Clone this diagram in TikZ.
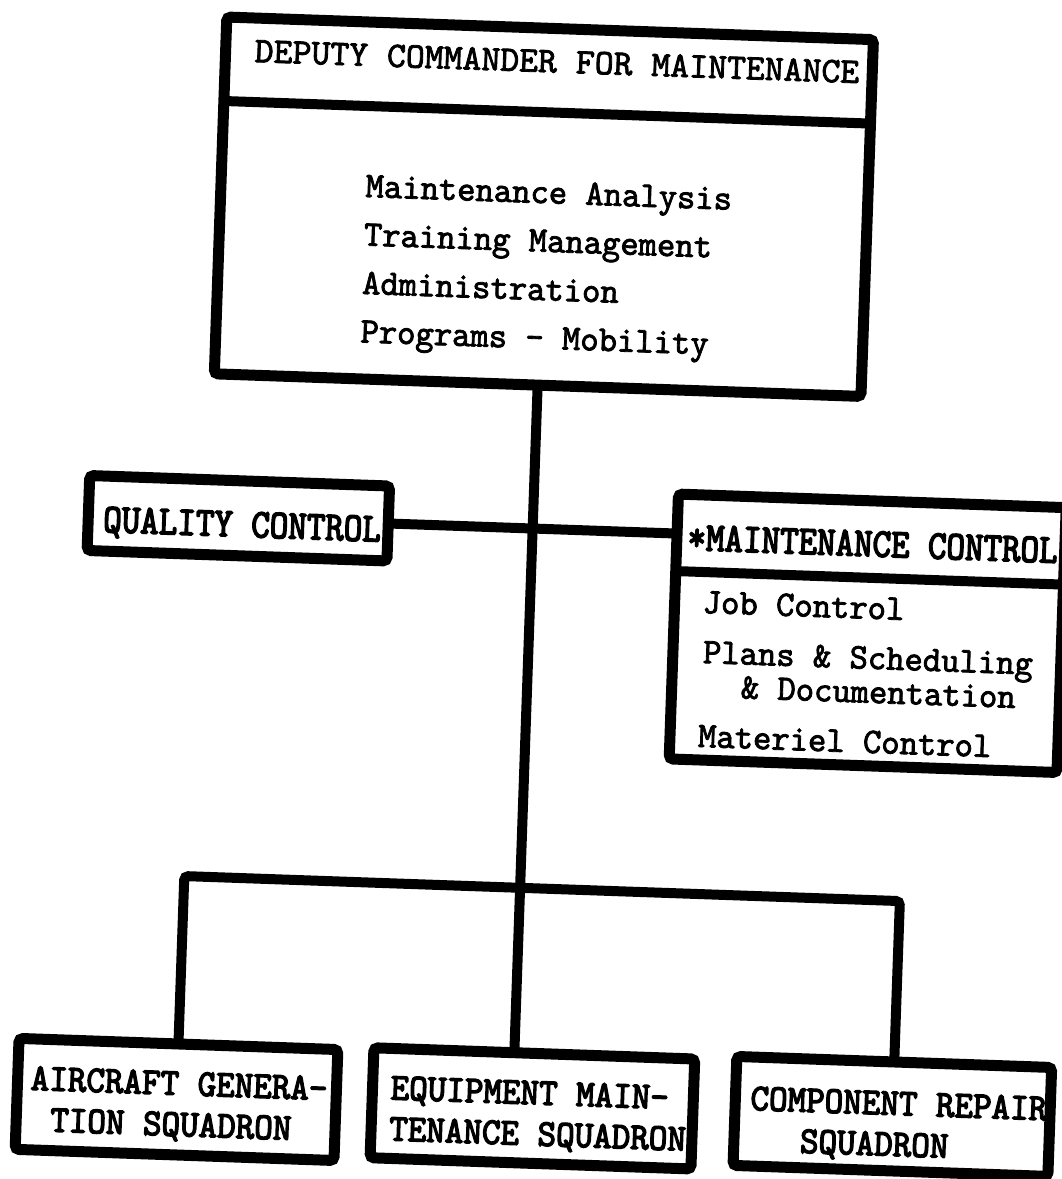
\documentclass[tikz,border=0pt]{standalone}
\usepackage{fontspec}
\usetikzlibrary{calc}
% typewriter faces: one for running text, a condensed heavier one for unit names
\newfontfamily\typer[FakeStretch=0.97, FakeBold=2.2]{lmmono10-regular.otf}
\newfontfamily\typehead[FakeStretch=1.0, FakeBold=2.2]{lmmono10-regular.otf}
\newfontfamily\typecaps[FakeStretch=0.86, FakeBold=3.5]{lmmono10-regular.otf}
\newfontfamily\typeunit[FakeStretch=0.93, FakeBold=3.5]{lmmono10-regular.otf}
\begin{document}
\begin{tikzpicture}[x=1pt,y=-1pt,
  box/.style={draw, line width=11pt, rounded corners=4pt, inner sep=0pt, outer sep=0pt, fill=white},
  conn/.style={line width=10pt, rounded corners=4pt},
  rule/.style={line width=10pt},
  head/.style={anchor=base west, inner sep=0pt, font=\fontsize{36}{44}\typehead},
  body/.style={anchor=base west, inner sep=0pt, font=\fontsize{36}{44}\typer},
  caps/.style={anchor=base west, inner sep=0pt, font=\fontsize{41}{44}\typecaps},
  unit/.style={anchor=base west, inner sep=0pt, align=left, font=\fontsize{38}{41}\typeunit}]
\useasboundingbox (0,0) rectangle (1062,1179);
\fill[white] (0,0) rectangle (1062,1179);
\clip (0,0) rectangle (1062,1179);
\begin{scope}[rotate around={-2:(531,590)}, transform shape]
  % boxes
  \node[box, minimum width=647pt, minimum height=357pt] (dcm) at (530.5,206.5) {};
  \node[box, minimum width=300pt, minimum height=75pt]  (qc)  at (236,528.5) {};
  \node[box, minimum width=388pt, minimum height=265pt] (mc)  at (869,621.5) {};
  \node[box, minimum width=319pt, minimum height=111pt] (ags) at (194.5,1111.5) {};
  \node[box, minimum width=321pt, minimum height=110pt] (ems) at (550.5,1108) {};
  \node[box, minimum width=315pt, minimum height=109pt] (crs) at (910.5,1103.5) {};

  % header rules
  \draw[rule] ($(dcm.north west)!0.2353!(dcm.south west)$) -- ($(dcm.north east)!0.2353!(dcm.south east)$);
  \draw[rule] ($(mc.north west)!0.2906!(mc.south west)$) -- ($(mc.north east)!0.2906!(mc.south east)$);

  % connectors
  \coordinate (barL) at (194.5,888);
  \coordinate (barR) at (910.5,888);
  \draw[conn] (dcm.south) -- ($(ems.north west)!0.4377!(ems.north east)$);
  \draw[conn] (ags.north) -- (barL) -- (barR) -- (crs.north);
  \draw[conn] (qc.east) -- ($(mc.north west)!0.149!(mc.south west)$);

  % texts
  \node[head] (dcmhead) at (236,72) {DEPUTY COMMANDER FOR MAINTENANCE};
  \node[body] (dcmA) at (351.5,203) {Maintenance Analysis};
  \node[body] (dcmB) at (351.5,251.5) {Training Management};
  \node[body] (dcmC) at (351.5,300) {Administration};
  \node[body] (dcmD) at (351.5,348.5) {Programs - Mobility};
  \node[caps] (qctext) at (101,547) {QUALITY CONTROL};
  \node[caps] (mchead) at (685.5,544.6) {*MAINTENANCE CONTROL};
  \node[body] (mcjob)  at (703,607) {Job Control};
  \node[body] (mcplan) at (705,657) {Plans \& Scheduling};
  \node[body] (mcdoc)  at (744,691) {\& Documentation};
  \node[body] (mcmat)  at (703,741) {Materiel Control};
  \node[unit] (agstext) at (48,1148) {AIRCRAFT GENERA-\\\hspace*{21pt}TION SQUADRON};
  \node[unit] (emstext) at (408,1145) {EQUIPMENT MAIN-\\TENANCE SQUADRON};
  \node[unit] (crstext) at (768,1143) {COMPONENT REPAIR\\\hspace*{51pt}SQUADRON};
\end{scope}
\end{tikzpicture}
\end{document}
